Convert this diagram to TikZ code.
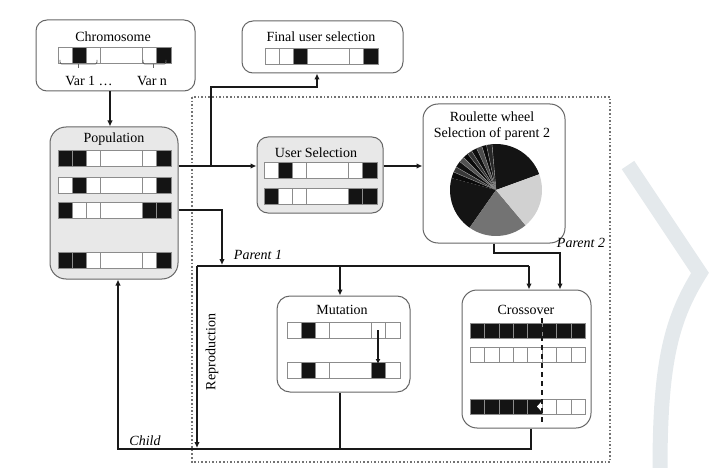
\documentclass[tikz,border=0pt]{standalone}
\usepackage{fontspec}
\setmainfont{Liberation Serif}
\usetikzlibrary{arrows.meta,calc}
\definecolor{blk}{gray}{0.08}
\definecolor{wm}{RGB}{228,233,236}
\newcommand\gbar[8]{%
  \foreach \a/\b/\c in {0/14/#3,14/28/#4,28/42/#5,42/84/#6,84/98/#7,98/113/#8}{%
    \path[fill=\c, draw=black!45, line width=0.6pt] (#1+\a,#2) rectangle (#1+\b,#2+16);
  }}
\begin{document}
\begin{tikzpicture}[x=1pt,y=-1pt,
  box/.style={draw=black!60, line width=1pt, rounded corners=11pt, inner sep=0pt},
  graybox/.style={box, fill=black!9},
  conn/.style={draw=black!90, line width=1.9pt},
  arr/.style={conn, -{Latex[length=6pt,width=5.5pt]}},
  lbl/.style={font=\fontsize{14}{16}\selectfont, inner sep=0pt},
  ilbl/.style={inner sep=0pt, font=\fontsize{14}{16}\selectfont\itshape},
  frame/.style={draw=black!55, line width=1.2pt, dash pattern=on 1.6pt off 2pt},
]
\useasboundingbox (0,0) rectangle (715,468);

% watermark chevron
\draw[wm, line width=15pt] (628,165) -- (700,273) .. controls (672,318) and (660,360) .. (660,468);

% dotted frame
\draw[frame] (192,97) rectangle (610,462);

% boxes
\node[box, minimum width=159pt, minimum height=71pt] (chrom) at (115.5,55.5) {};
\node[box, minimum width=161pt, minimum height=52pt] (final) at (322.5,47) {};
\node[graybox, rounded corners=16pt, minimum width=128pt, minimum height=152pt] (pop) at (114,203) {};
\node[graybox, minimum width=126pt, minimum height=76pt] (usel) at (320,175) {};
\node[box, rounded corners=15pt, minimum width=142pt, minimum height=139pt] (roul) at (494,173.5) {};
\node[box, rounded corners=13pt, minimum width=133pt, minimum height=96pt] (mut) at (343.5,344) {};
\node[box, rounded corners=15pt, minimum width=129pt, minimum height=138pt] (cross) at (526.5,359) {};

% titles
\node[lbl] (tchrom) at (113,37) {Chromosome};
\node[lbl] (tfinal) at (321,37) {Final user selection};
\node[lbl] (tpop) at (114,139) {Population};
\node[lbl] (tusel) at (316,153) {User Selection};
\node[lbl] (troul1) at (492,117) {Roulette wheel};
\node[lbl] (troul2) at (492,134) {Selection of parent 2};
\node[lbl] (tmut) at (342,310) {Mutation};
\node[lbl] (tcross) at (526,310) {Crossover};

% chromosome bar and variable marks
\gbar{58}{47}{white}{blk}{white}{white}{white}{blk}
\draw[black!60, line width=0.9pt, rounded corners=2pt] (60,60) -- (60,64) -- (97,64) -- (97,60);
\draw[black!60, line width=0.9pt] (78,64) -- (78,68);
\draw[black!60, line width=0.9pt, rounded corners=2pt] (143,60) -- (143,64) -- (166,64) -- (166,60);
\draw[black!60, line width=0.9pt] (153,64) -- (153,68);
\node[lbl] (tvar1) at (89,81) {Var 1 \ldots};
\node[lbl] (tvarn) at (152,81) {Var n};

% final selection bar
\gbar{265}{48}{white}{white}{blk}{white}{white}{blk}

% population bars
\gbar{58}{150}{blk}{blk}{white}{white}{white}{blk}
\gbar{58}{177}{white}{blk}{white}{white}{white}{blk}
\gbar{58}{202}{blk}{white}{white}{white}{blk}{blk}
\gbar{58}{252}{blk}{blk}{white}{white}{white}{blk}

% user selection bars
\gbar{264}{162}{white}{blk}{white}{white}{white}{blk}
\gbar{264}{188}{blk}{white}{white}{white}{blk}{blk}

% mutation bars
\gbar{287}{322}{white}{blk}{white}{white}{white}{white}
\gbar{287}{362}{white}{blk}{white}{white}{blk}{white}
\coordinate (m1) at (378,330);
\coordinate (m2) at (378,364);
\draw[conn, line width=1.3pt, -{Latex[length=5pt,width=5pt]}] (m1) -- (m2);

% crossover bars
\foreach \i in {0,...,7}{
  \path[fill=blk, draw=black!45, line width=0.6pt] (470+14.4*\i,323) rectangle (470+14.4*\i+14.4,338);
  \path[fill=white, draw=black!45, line width=0.6pt] (470+14.4*\i,347) rectangle (470+14.4*\i+14.4,362);
}
\foreach \i in {0,...,4}{
  \path[fill=blk, draw=black!45, line width=0.6pt] (470+14.4*\i,399) rectangle (470+14.4*\i+14.4,414);
}
\foreach \i in {5,6,7}{
  \path[fill=white, draw=black!45, line width=0.6pt] (470+14.4*\i,399) rectangle (470+14.4*\i+14.4,414);
}
\fill[white] (537,406.5) -- (542,401) -- (542,412) -- cycle;
\draw[black!90, line width=1.4pt, dash pattern=on 5pt off 4pt] (542,318) -- (542,424);

% pie chart (angles negated because y axis points down)
\coordinate (pc) at (496,190);
\def\pr{46}
\fill[blk] (pc) -- ++(-20:\pr) arc[start angle=-20, end angle=-95, radius=\pr] -- cycle;
\foreach \a/\b/\g in {95/102/85,102/108/96,108/115/70,115/122/95,122/128/80,128/135/96,135/142/68,142/150/94,150/157/78,157/165/96}{
  \fill[black!\g] (pc) -- ++(-\a:\pr) arc[start angle=-\a, end angle=-\b, radius=\pr] -- cycle;
  \draw[black!40, line width=0.4pt] (pc) -- ++(-\a:\pr);
}
\fill[blk] (pc) -- ++(-165:\pr) arc[start angle=-165, end angle=-235, radius=\pr] -- cycle;
\fill[black!55] (pc) -- ++(-235:\pr) arc[start angle=-235, end angle=-310, radius=\pr] -- cycle;
\fill[black!18] (pc) -- ++(-310:\pr) arc[start angle=-310, end angle=-380, radius=\pr] -- cycle;

% connectors
\draw[arr] ([xshift=-5.5pt]chrom.south) -- ([xshift=-5.5pt]chrom.south |- pop.north);

\coordinate (ysel) at (0,166);
\draw[arr] (pop.east |- ysel) -- (usel.west |- ysel);
\coordinate (j1) at (211,166);
\coordinate (k1) at (317,87);
\draw[arr] (j1) |- (k1) -- (final.south -| k1);
\draw[arr] (usel.east |- ysel) -- (roul.west |- ysel);

\coordinate (k2) at (494,253);
\coordinate (k3) at (560,253);
\draw[arr] (roul.south -| k2) -- (k2) -- (k3) -- (cross.north -| k3);

\coordinate (y3) at (0,210);
\coordinate (k4) at (222,210);
\coordinate (k5) at (222,265);
\draw[arr] (pop.east |- y3) -- (k4) -- (k5);

\coordinate (b0) at (197,266);
\coordinate (b1) at (529,266);
\coordinate (b2) at (340,266);
\coordinate (b3) at (197,448);
\draw[conn] (b0) -- (b1);
\draw[arr] (b1) -- (cross.north -| b1);
\draw[arr] (b2) -- (mut.north -| b2);
\draw[arr] (b0) -- (b3);

\coordinate (c0) at (118,449);
\coordinate (c1) at (531,449);
\draw[conn] (mut.south -| b2) -- (b2 |- c1);
\draw[arr] (cross.south -| c1) -- (c1) -- (c0) -- (pop.south -| c0);

% connector labels
\node[ilbl] (lp1) at (258,255) {Parent 1};
\node[ilbl] (lp2) at (581,243) {Parent 2};
\node[ilbl] (lch) at (145,441) {Child};
\node[lbl, rotate=90] (lrep) at (212,352) {Reproduction};
\end{tikzpicture}
\end{document}
